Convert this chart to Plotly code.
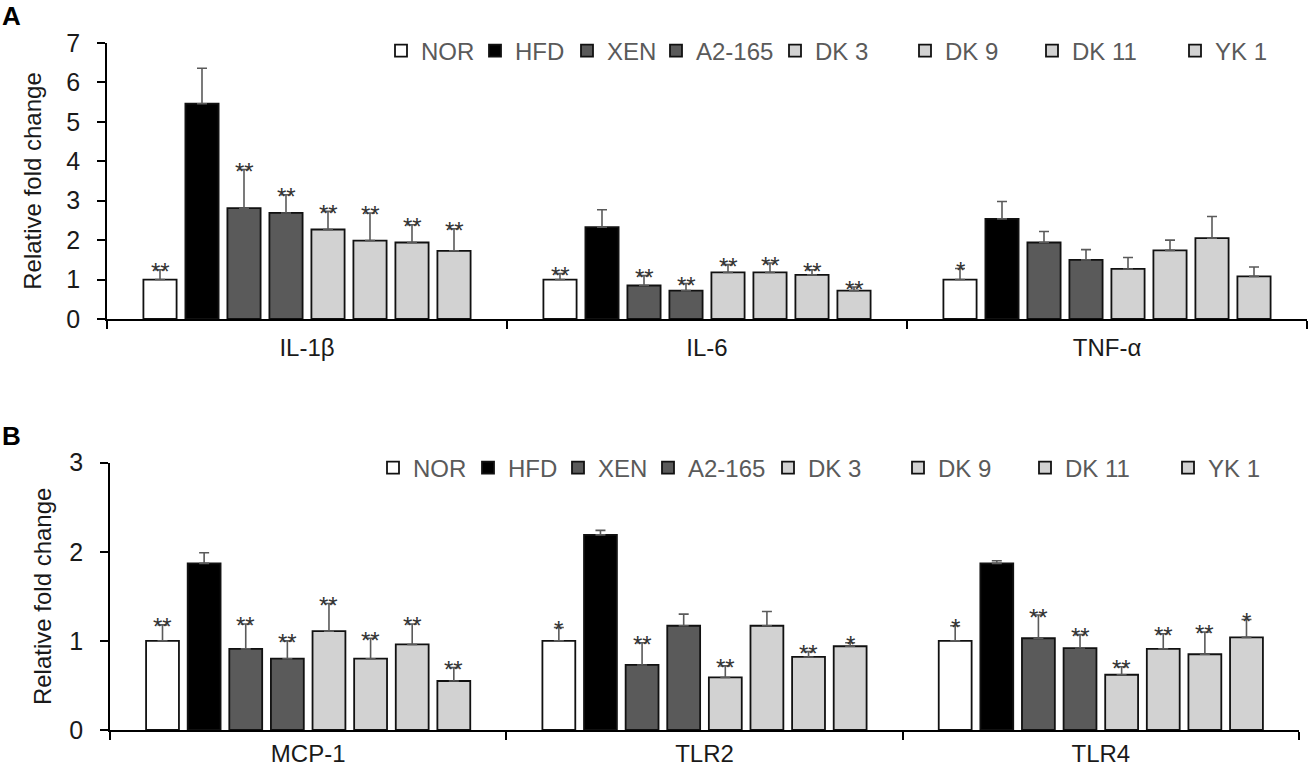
import plotly.graph_objects as go

# ---------------- data ----------------
groups = ["NOR", "HFD", "XEN", "A2-165", "DK 3", "DK 9", "DK 11", "YK 1"]
genes_a = ["IL-1β", "IL-6", "TNF-α"]
genes_b = ["MCP-1", "TLR2", "TLR4"]

# panel A: mean relative fold change per group (IL-1β, IL-6, TNF-α)
nor_a = [1.00, 1.00, 1.00]
hfd_a = [5.46, 2.33, 2.54]
xen_a = [2.81, 0.85, 1.94]
a2_a = [2.69, 0.72, 1.50]
dk3_a = [2.27, 1.18, 1.27]
dk9_a = [1.99, 1.18, 1.74]
dk11_a = [1.94, 1.12, 2.05]
yk1_a = [1.73, 0.72, 1.08]
# panel A: error (upper) values
nor_a_err = [0.25, 0.15, 0.28]
hfd_a_err = [0.90, 0.44, 0.44]
xen_a_err = [0.98, 0.25, 0.28]
a2_a_err = [0.46, 0.18, 0.26]
dk3_a_err = [0.46, 0.20, 0.29]
dk9_a_err = [0.70, 0.24, 0.26]
dk11_a_err = [0.45, 0.13, 0.55]
yk1_a_err = [0.56, 0.09, 0.24]
# panel A significance marks
nor_a_sig = ["**", "**", "*"]
hfd_a_sig = ["", "", ""]
xen_a_sig = ["**", "**", ""]
a2_a_sig = ["**", "**", ""]
dk3_a_sig = ["**", "**", ""]
dk9_a_sig = ["**", "**", ""]
dk11_a_sig = ["**", "**", ""]
yk1_a_sig = ["**", "**", ""]

# panel B: (MCP-1, TLR2, TLR4)
nor_b = [1.00, 1.00, 1.00]
hfd_b = [1.87, 2.19, 1.87]
xen_b = [0.91, 0.73, 1.03]
a2_b = [0.80, 1.17, 0.92]
dk3_b = [1.11, 0.59, 0.62]
dk9_b = [0.80, 1.17, 0.91]
dk11_b = [0.96, 0.82, 0.85]
yk1_b = [0.55, 0.94, 1.04]
nor_b_err = [0.18, 0.15, 0.17]
hfd_b_err = [0.12, 0.05, 0.03]
xen_b_err = [0.28, 0.25, 0.26]
a2_b_err = [0.20, 0.13, 0.15]
dk3_b_err = [0.31, 0.13, 0.09]
dk9_b_err = [0.23, 0.16, 0.17]
dk11_b_err = [0.23, 0.06, 0.25]
yk1_b_err = [0.15, 0.04, 0.20]
nor_b_sig = ["**", "*", "*"]
hfd_b_sig = ["", "", ""]
xen_b_sig = ["**", "**", "**"]
a2_b_sig = ["**", "", "**"]
dk3_b_sig = ["**", "**", "**"]
dk9_b_sig = ["**", "", "**"]
dk11_b_sig = ["**", "**", "**"]
yk1_b_sig = ["**", "*", "*"]

y_ticks_a = [0, 1, 2, 3, 4, 5, 6, 7]
y_ticks_b = [0, 1, 2, 3]

means_a = [nor_a, hfd_a, xen_a, a2_a, dk3_a, dk9_a, dk11_a, yk1_a]
errs_a = [nor_a_err, hfd_a_err, xen_a_err, a2_a_err, dk3_a_err, dk9_a_err, dk11_a_err, yk1_a_err]
sigs_a = [nor_a_sig, hfd_a_sig, xen_a_sig, a2_a_sig, dk3_a_sig, dk9_a_sig, dk11_a_sig, yk1_a_sig]
means_b = [nor_b, hfd_b, xen_b, a2_b, dk3_b, dk9_b, dk11_b, yk1_b]
errs_b = [nor_b_err, hfd_b_err, xen_b_err, a2_b_err, dk3_b_err, dk9_b_err, dk11_b_err, yk1_b_err]
sigs_b = [nor_b_sig, hfd_b_sig, xen_b_sig, a2_b_sig, dk3_b_sig, dk9_b_sig, dk11_b_sig, yk1_b_sig]

# ---------------- style / layout ----------------
colors = ["#ffffff", "#000000", "#5a5a5a", "#5a5a5a", "#d2d2d2", "#d2d2d2", "#d2d2d2", "#d2d2d2"]
FONT = "Liberation Sans, Arial, Helvetica, sans-serif"
W, H = 1310, 770
ML = 100
BARGAP = 0.16
BARGROUPGAP = 0.21


def fx(px):
    return (px - ML) / (W - ML)


def fy(py):
    return 1 - py / H


legend_text_x_a = [421, 515, 607, 696, 815, 945, 1072, 1215]
legend_text_x_b = [413, 508, 598, 688, 808, 938, 1065, 1208]
legend_y_a = 51
legend_y_b = 468

fig = go.Figure()
annotations = []
legends = {}

panels = [
    dict(genes=genes_a, means=means_a, errs=errs_a, sigs=sigs_a, xa="x", ya="y",
         lx=legend_text_x_a, ly=legend_y_a, lstart=1),
    dict(genes=genes_b, means=means_b, errs=errs_b, sigs=sigs_b, xa="x2", ya="y2",
         lx=legend_text_x_b, ly=legend_y_b, lstart=9),
]

slot = (1 - BARGAP) / len(groups)
for p in panels:
    for i, g in enumerate(groups):
        n = p["lstart"] + i
        lid = "legend" if n == 1 else f"legend{n}"
        fig.add_trace(go.Bar(
            x=p["genes"], y=p["means"][i], name=g,
            xaxis=p["xa"], yaxis=p["ya"], legend=lid,
            marker=dict(color=colors[i], line=dict(color="#111111", width=1.8)),
            error_y=dict(type="data", symmetric=False, array=p["errs"][i],
                         arrayminus=[0] * len(p["genes"]),
                         color="#5a5a5a", thickness=1.6, width=5),
        ))
        legends[lid] = dict(
            x=fx(p["lx"][i] - 40), y=fy(p["ly"]), xanchor="left", yanchor="middle",
            orientation="h", bgcolor="rgba(0,0,0,0)", borderwidth=0,
            font=dict(family=FONT, size=24, color="#5a5a5a"),
        )
        for k, gene in enumerate(p["genes"]):
            s = p["sigs"][i][k]
            if not s:
                continue
            annotations.append(dict(
                x=k + (i - (len(groups) - 1) / 2) * slot,
                y=p["means"][i][k] + p["errs"][i][k],
                xref=p["xa"], yref=p["ya"], text=s, showarrow=False,
                yanchor="middle", xanchor="center", yshift=-2,
                font=dict(family=FONT, size=24, color="#333333"),
            ))

annotations.append(dict(x=fx(0), y=fy(16), xref="paper", yref="paper", text="<b>A</b>",
                        showarrow=False, xanchor="left", yanchor="middle",
                        font=dict(family=FONT, size=26, color="#000000")))
annotations.append(dict(x=fx(0), y=fy(436), xref="paper", yref="paper", text="<b>B</b>",
                        showarrow=False, xanchor="left", yanchor="middle",
                        font=dict(family=FONT, size=26, color="#000000")))

xcommon = dict(type="category", showline=True, linecolor="#000000", linewidth=1.5,
               ticks="outside", tickson="boundaries", ticklen=8, tickwidth=1.5,
               tickcolor="#000000", showgrid=False, zeroline=False,
               tickfont=dict(family=FONT, size=24, color="#1a1a1a"), automargin=False)
ycommon = dict(showline=True, linecolor="#000000", linewidth=1.5, ticks="outside",
               ticklen=8, tickwidth=1.5, tickcolor="#000000", showgrid=False,
               zeroline=False, tickfont=dict(family=FONT, size=25, color="#1a1a1a"),
               ticklabelstandoff=12, automargin=False)

fig.update_layout(
    width=W, height=H,
    margin=dict(l=ML, r=0, t=0, b=0),
    paper_bgcolor="#ffffff", plot_bgcolor="#ffffff",
    barmode="group", bargap=BARGAP, bargroupgap=BARGROUPGAP,
    showlegend=True,
    font=dict(family=FONT, color="#1a1a1a"),
    xaxis=dict(xcommon, domain=[fx(107), fx(1307)], anchor="y", ticklabelstandoff=6,
               categoryorder="array", categoryarray=genes_a),
    yaxis=dict(ycommon, domain=[fy(319), fy(43)], anchor="x", range=[0, 7],
               tickvals=y_ticks_a,
               title=dict(text="Relative fold change", standoff=18,
                          font=dict(family=FONT, size=24, color="#1a1a1a"))),
    xaxis2=dict(xcommon, domain=[fx(110), fx(1299)], anchor="y2", ticklabelstandoff=1,
                categoryorder="array", categoryarray=genes_b),
    yaxis2=dict(ycommon, domain=[fy(730), fy(462.7)], anchor="x2", range=[0, 3],
                tickvals=y_ticks_b,
                title=dict(text="Relative fold change", standoff=11,
                           font=dict(family=FONT, size=24, color="#1a1a1a"))),
    annotations=annotations,
    **legends,
)

fig.write_html("out.html", config={"displayModeBar": False},
               post_script="document.body.style.margin='0px';")
